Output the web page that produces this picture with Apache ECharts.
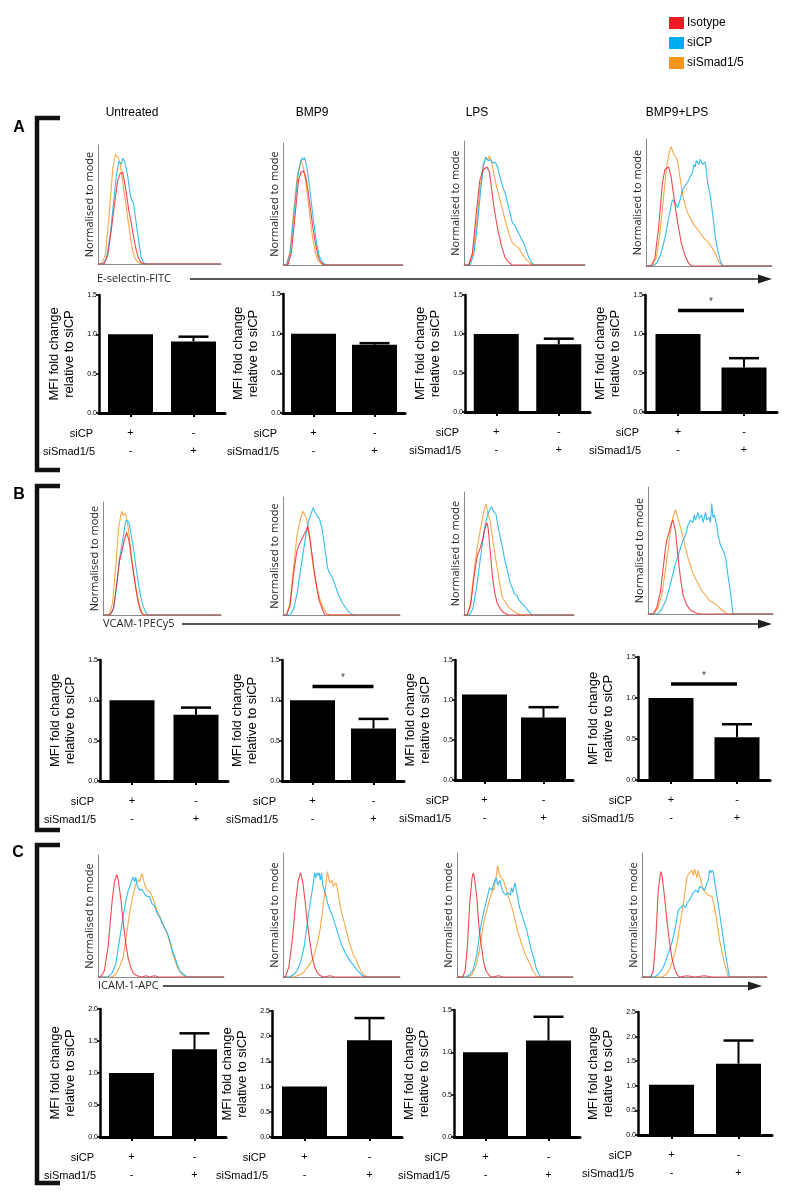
<!DOCTYPE html>
<html><head><meta charset="utf-8">
<script src="https://cdn.jsdelivr.net/npm/echarts@6.0.0/dist/echarts.min.js"></script>
<style>html,body{margin:0;padding:0;background:#fff}#c{width:800px;height:1198px}</style>
</head><body><div id="c"></div>
<script>
// ---------- labels ----------
const groups = ['Untreated', 'BMP9', 'LPS', 'BMP9+LPS'];
const markers = ['E-selectin-FITC', 'VCAM-1PECy5', 'ICAM-1-APC'];
const panels = ['A', 'B', 'C'];
const conditions = ['Isotype', 'siCP', 'siSmad1/5'];
const siCPRow = ['+', '-'];
const siSmadRow = ['-', '+'];
const yName = 'MFI fold change\nrelative to siCP';
const histYName = 'Normalised to mode';

// ---------- histograms: [x % of axis, y % of axis height] ----------
// A: E-selectin
const A1_iso = [[0,0],[5,0],[8,8],[11,30],[14,55],[16,70],[18,76],[20,77],[21,72],[23,60],[25,45],[27,35],[29,22],[31,12],[33,5],[35,1],[38,0],[100,0]];
const A1_cp = [[0,0],[4,0],[7,5],[10,25],[13,55],[15,75],[17,86],[19,84],[20,89],[22,85],[24,75],[26,60],[27,55],[29,50],[31,35],[33,20],[35,6],[37,1],[40,0],[100,0]];
const A1_smad = [[0,0],[3,0],[6,8],[9,40],[12,80],[14,92],[16,90],[18,85],[20,70],[22,55],[24,40],[26,25],[28,12],[30,5],[33,1],[36,0],[100,0]];
const A2_iso = [[0,0],[4,0],[7,10],[10,40],[13,70],[15,76],[17,77],[19,72],[21,60],[23,45],[25,30],[27,18],[29,8],[31,3],[34,0],[100,0]];
const A2_cp = [[0,0],[3,0],[6,10],[9,40],[12,70],[14,82],[16,88],[17,86],[18,88],[20,80],[22,65],[24,48],[26,32],[28,18],[30,8],[33,2],[36,0],[100,0]];
const A2_smad = [[0,0],[3,0],[6,12],[9,45],[12,74],[14,82],[15,86],[17,80],[19,68],[21,52],[23,35],[25,20],[27,10],[29,4],[32,1],[34,0],[100,0]];
const A3_iso = [[0,0],[4,0],[7,10],[10,40],[13,68],[16,77],[19,79],[21,75],[23,60],[25,45],[28,28],[31,15],[34,6],[37,2],[40,0],[100,0]];
const A3_cp = [[0,0],[5,0],[8,8],[11,32],[14,62],[16,80],[18,87],[20,84],[22,85],[24,82],[26,83],[28,78],[30,70],[32,63],[34,58],[36,50],[38,42],[40,34],[42,32],[44,28],[46,24],[48,20],[50,16],[52,10],[54,5],[56,2],[58,0],[100,0]];
const A3_smad = [[0,0],[4,0],[7,8],[10,30],[13,60],[16,82],[18,86],[20,85],[21,88],[23,82],[25,72],[27,63],[29,55],[31,48],[33,40],[35,32],[38,23],[40,18],[42,16],[45,14],[48,9],[51,5],[54,2],[57,0],[100,0]];
const A4_iso = [[0,0],[4,0],[7,6],[10,30],[13,65],[15,76],[18,78],[20,70],[22,55],[25,35],[28,18],[31,8],[34,2],[36,0],[100,0]];
const A4_cp = [[0,0],[6,0],[9,3],[12,10],[15,22],[18,38],[20,48],[21,52],[23,50],[25,46],[27,52],[29,60],[31,63],[33,66],[35,70],[37,74],[38,80],[39,78],[40,83],[41,84],[42,80],[43,84],[45,80],[47,82],[48,74],[49,65],[51,55],[52,48],[54,32],[55,23],[57,12],[59,4],[61,0],[100,0]];
const A4_smad = [[0,0],[5,0],[8,6],[11,25],[14,55],[16,75],[18,88],[20,94],[22,88],[24,85],[25,83],[27,70],[29,56],[31,48],[33,42],[35,38],[37,34],[40,30],[43,26],[46,22],[48,20],[50,18],[52,15],[55,10],[57,5],[59,2],[61,0],[100,0]];
// B: VCAM-1
const B1_iso = [[0,0],[6,0],[9,6],[12,30],[14,48],[16,56],[18,66],[20,73],[22,66],[24,50],[26,36],[28,22],[30,10],[32,3],[34,0],[100,0]];
const B1_cp = [[0,0],[6,0],[9,6],[12,30],[14,50],[16,62],[18,75],[19,82],[20,84],[22,82],[24,70],[26,58],[28,42],[30,28],[32,16],[34,8],[36,3],[38,0],[100,0]];
const B1_smad = [[0,0],[5,0],[8,10],[11,45],[13,75],[15,88],[16,92],[17,88],[19,90],[21,80],[23,62],[25,45],[27,30],[29,18],[31,8],[33,2],[35,0],[100,0]];
const B2_iso = [[0,0],[3,0],[6,8],[9,35],[12,55],[15,62],[18,68],[20,72],[21,75],[23,65],[25,50],[27,35],[29,22],[31,12],[34,4],[36,0],[100,0]];
const B2_cp = [[0,0],[6,0],[9,5],[12,18],[15,38],[18,58],[20,70],[22,80],[24,86],[26,91],[27,88],[29,84],[31,82],[32,81],[33,75],[35,62],[37,48],[38,40],[40,35],[42,32],[43,30],[45,24],[47,18],[49,14],[51,10],[53,7],[55,4],[57,2],[60,0],[100,0]];
const B2_smad = [[0,0],[3,0],[6,10],[9,40],[12,68],[15,82],[17,88],[18,89],[20,82],[22,72],[24,55],[26,40],[28,28],[31,15],[34,7],[37,2],[40,0],[100,0]];
const B3_iso = [[0,0],[3,0],[6,8],[9,30],[12,48],[15,55],[17,62],[19,70],[21,75],[22,70],[24,50],[26,30],[28,18],[30,10],[33,5],[36,2],[40,0],[100,0]];
const B3_cp = [[0,0],[5,0],[8,5],[11,20],[14,40],[17,60],[19,72],[21,80],[22,83],[23,82],[25,88],[27,84],[29,82],[31,72],[33,63],[35,55],[37,45],[39,38],[41,30],[42,26],[44,22],[46,17],[48,16],[50,12],[51,11],[54,8],[57,5],[60,2],[62,0],[100,0]];
const B3_smad = [[0,0],[3,0],[6,10],[9,35],[12,55],[15,70],[17,80],[19,88],[20,90],[22,82],[24,75],[26,62],[28,50],[30,39],[32,28],[34,18],[35,14],[38,10],[41,6],[44,4],[47,2],[51,0],[100,0]];
const B4_iso = [[0,0],[4,0],[7,5],[10,18],[12,35],[14,52],[15,58],[17,65],[19,72],[20,74],[22,65],[24,45],[26,28],[28,15],[31,7],[34,3],[38,1],[42,0],[100,0]];
const B4_cp = [[0,0],[8,0],[11,4],[14,10],[17,20],[20,32],[22,40],[24,45],[26,52],[28,58],[30,62],[32,70],[34,74],[36,72],[37,78],[38,74],[40,80],[41,75],[43,78],[44,72],[46,80],[47,74],[49,76],[50,72],[51,87],[52,76],[53,78],[55,70],[56,62],[58,54],[60,50],[62,45],[64,30],[66,17],[67,8],[68,0],[100,0]];
const B4_smad = [[0,0],[5,0],[8,5],[11,15],[14,35],[17,58],[19,72],[21,80],[22,82],[24,75],[26,68],[28,61],[30,52],[32,44],[34,38],[36,32],[38,28],[40,24],[42,20],[44,17],[46,15],[48,12],[50,10],[52,9],[55,7],[58,4],[61,2],[63,0],[100,0]];
// C: ICAM-1
const C1_iso = [[0,0],[2,0],[5,5],[8,25],[11,60],[13,78],[15,84],[16,80],[18,65],[20,45],[22,28],[24,15],[26,8],[28,3],[31,1],[35,0],[38,1],[41,0],[45,1],[48,0],[100,0]];
const C1_cp = [[0,0],[8,0],[11,3],[14,10],[17,30],[20,50],[22,62],[24,71],[26,76],[27,80],[28,82],[29,78],[30,82],[31,75],[33,71],[35,72],[37,68],[39,66],[41,66],[43,60],[45,58],[47,52],[49,49],[51,44],[53,40],[55,36],[57,30],[59,22],[61,16],[63,10],[65,5],[68,2],[71,0],[100,0]];
const C1_smad = [[0,0],[11,0],[14,2],[17,8],[20,16],[22,30],[25,52],[28,68],[30,76],[32,80],[33,78],[35,85],[36,80],[37,76],[39,71],[41,70],[43,66],[45,60],[47,54],[49,50],[51,44],[53,40],[55,35],[57,28],[59,20],[61,14],[63,8],[66,3],[69,0],[100,0]];
const C2_iso = [[0,0],[2,0],[5,8],[8,30],[11,62],[13,78],[15,84],[17,76],[19,60],[21,42],[23,28],[25,16],[27,8],[29,4],[32,1],[35,0],[40,1],[44,0],[100,0]];
const C2_cp = [[0,0],[6,0],[9,2],[12,5],[15,12],[18,24],[20,38],[22,52],[24,64],[25,70],[26,76],[27,84],[28,80],[29,84],[30,82],[31,84],[32,78],[33,84],[34,74],[36,68],[38,60],[40,54],[42,50],[44,44],[46,38],[48,32],[50,26],[52,22],[54,18],[56,15],[58,12],[60,10],[62,7],[64,5],[66,3],[68,1],[70,0],[100,0]];
const C2_smad = [[0,0],[9,0],[12,1],[15,2],[18,4],[21,8],[24,12],[26,16],[28,22],[30,30],[32,40],[34,55],[36,70],[37,78],[38,85],[39,80],[40,76],[42,78],[43,73],[45,76],[46,74],[48,62],[50,52],[52,45],[54,38],[56,30],[58,24],[60,18],[62,15],[64,10],[66,6],[68,3],[70,1],[72,0],[100,0]];
const C3_iso = [[0,0],[5,0],[7,5],[9,25],[11,60],[13,80],[14,84],[15,80],[17,65],[19,40],[21,25],[23,12],[25,5],[28,1],[30,0],[36,1],[40,0],[100,0]];
const C3_cp = [[0,0],[8,0],[11,2],[14,6],[17,18],[20,38],[22,48],[24,56],[26,64],[28,72],[30,70],[32,76],[34,80],[35,74],[37,78],[39,70],[40,68],[42,66],[44,68],[46,66],[47,72],[48,68],[50,76],[51,70],[52,66],[54,56],[56,50],[58,44],[60,38],[62,30],[64,22],[66,16],[68,8],[70,3],[72,0],[100,0]];
const C3_smad = [[0,0],[10,0],[13,2],[16,8],[19,20],[22,38],[24,48],[26,55],[28,62],[30,68],[31,72],[32,70],[33,78],[34,82],[35,90],[36,84],[38,80],[40,78],[42,72],[44,66],[46,60],[48,54],[50,46],[52,38],[54,32],[56,26],[58,20],[60,16],[62,12],[64,8],[66,4],[69,0],[100,0]];
const C4_iso = [[0,0],[7,0],[9,5],[11,30],[13,70],[15,85],[16,82],[18,65],[20,45],[22,28],[24,15],[26,7],[28,2],[30,0],[36,1],[42,0],[50,1],[56,0],[100,0]];
const C4_cp = [[0,0],[10,0],[13,2],[16,6],[18,10],[20,16],[22,22],[24,28],[25,32],[27,42],[29,54],[31,56],[33,58],[35,56],[36,60],[38,62],[40,66],[41,68],[43,70],[45,68],[46,73],[48,72],[50,70],[52,76],[53,78],[54,86],[55,84],[56,86],[57,84],[58,78],[60,65],[62,52],[64,38],[66,24],[68,11],[70,0],[100,0]];
const C4_smad = [[0,0],[15,0],[18,1],[20,3],[22,6],[24,12],[26,18],[28,27],[30,40],[32,52],[34,66],[36,81],[38,84],[40,86],[41,82],[42,87],[44,80],[45,86],[46,86],[47,78],[49,70],[51,68],[53,66],[56,65],[58,56],[60,44],[62,30],[64,20],[66,11],[68,4],[69,0],[100,0]];

// ---------- bar charts: mean, upper error (SEM), significance bar height ----------
const meanA = [[1.0, 0.91], [1.0, 0.86], [1.0, 0.87], [1.0, 0.57]];
const errA = [[0, 0.06], [0, 0.02], [0, 0.07], [0, 0.12]];
const sigA = [null, null, null, 1.30];
const meanB = [[1.0, 0.82], [1.0, 0.65], [1.07, 0.78], [1.0, 0.52]];
const errB = [[0, 0.09], [0, 0.12], [0, 0.13], [0, 0.16]];
const sigB = [null, 1.17, null, 1.17];
const meanC = [[1.0, 1.37], [1.0, 1.92], [1.0, 1.14], [1.02, 1.45]];
const errC = [[0, 0.25], [0, 0.44], [0, 0.28], [0, 0.47]];
const sigC = [null, null, null, null];
const yMax = [[1.5, 1.5, 1.5, 1.5], [1.5, 1.5, 1.5, 1.5], [2.0, 2.5, 1.5, 2.5]];

// ---------- layout (pixels: left, top, right, bottom) ----------
const histBoxes = [
  [[98,145,221,264],[283,143,403,265],[464,141,585,265],[646,139,772,266]],
  [[103,502,221,615],[283,497,400,615],[464,492,574,615],[648,487,773,614]],
  [[98,855,224,977],[283,853,400,977],[457,853,573,977],[642,853,767,977]]
];
const barBoxes = [
  [[99,295,225,413],[283,294,405,413],[465,295,590,412],[645,295,777,412]],
  [[100,660,228,781],[282,660,404,781],[455,660,573,780],[638,657,770,780]],
  [[100,1009,226,1137],[272,1011,402,1137],[454,1010,580,1137],[638,1012,772,1135]]
];
const titleX = [132, 312, 477, 677];
const letterPos = [[19,128],[19,495],[18,853]];
const brackets = [[118,470],[486,830],[845,1183]];
const arrowRows = [[97,279,190,772],[103,624,182,772],[98,986,163,762]];

const colors = ['#ED1C24', '#00AEEF', '#F7941D'];
const hist = [
  [[A1_iso,A1_cp,A1_smad],[A2_iso,A2_cp,A2_smad],[A3_iso,A3_cp,A3_smad],[A4_iso,A4_cp,A4_smad]],
  [[B1_iso,B1_cp,B1_smad],[B2_iso,B2_cp,B2_smad],[B3_iso,B3_cp,B3_smad],[B4_iso,B4_cp,B4_smad]],
  [[C1_iso,C1_cp,C1_smad],[C2_iso,C2_cp,C2_smad],[C3_iso,C3_cp,C3_smad],[C4_iso,C4_cp,C4_smad]]
];
const means = [meanA, meanB, meanC];
const errs = [errA, errB, errC];
const sigs = [sigA, sigB, sigC];

const narrow = '"Liberation Sans",Arial,sans-serif';
const sans = '"Liberation Sans",Arial,sans-serif';
const myriad = '"Open Sans","Noto Sans",sans-serif';

const grid = [], xAxis = [], yAxis = [], series = [], graphic = [];

function box(b) { return { left: b[0], top: b[1], width: b[2] - b[0], height: b[3] - b[1] }; }

for (let p = 0; p < 3; p++) {
  for (let g = 0; g < 4; g++) {
    // ---- histogram ----
    const hb = histBoxes[p][g];
    const gi = grid.length;
    grid.push(box(hb));
    const xi = xAxis.length, yi = yAxis.length;
    xAxis.push({ gridIndex: gi, type: 'value', min: 0, max: 100,
      axisLine: { show: true, lineStyle: { color: '#8a8a8a', width: 1 } },
      axisTick: { show: false }, axisLabel: { show: false }, splitLine: { show: false } });
    yAxis.push({ gridIndex: gi, type: 'value', min: 0, max: 100,
      name: histYName, nameLocation: 'middle', nameGap: 3,
      nameTextStyle: { fontSize: 11, fontFamily: myriad, color: '#231f20' },
      axisLine: { show: true, lineStyle: { color: '#8a8a8a', width: 1 } },
      axisTick: { show: false }, axisLabel: { show: false }, splitLine: { show: false } });
    for (let s = 0; s < 3; s++) {
      series.push({ type: 'line', name: conditions[s], xAxisIndex: xi, yAxisIndex: yi,
        data: hist[p][g][s], symbol: 'none', showSymbol: false, animation: false,
        color: colors[s], lineStyle: { width: 1.1, color: colors[s], opacity: 0.8 }, z: 3 - s });
    }

    // ---- bar chart ----
    const bb = barBoxes[p][g];
    const bgi = grid.length;
    grid.push(box(bb));
    const cxi = xAxis.length;
    xAxis.push({ gridIndex: bgi, type: 'category',
      data: siCPRow.map((v, i) => v + '\n' + siSmadRow[i]),
      axisLine: { show: true, lineStyle: { color: '#000', width: 3 } },
      axisTick: { show: true, alignWithLabel: true, length: 4, lineStyle: { color: '#000', width: 2 } },
      axisLabel: { fontSize: 11, lineHeight: 18, margin: 11, color: '#000', fontFamily: narrow } });
    const vxi = xAxis.length;
    xAxis.push({ gridIndex: bgi, type: 'value', min: 0, max: 2, show: false });
    const byi = yAxis.length;
    yAxis.push({ gridIndex: bgi, type: 'value', min: 0, max: yMax[p][g], interval: 0.5,
      name: yName, nameLocation: 'middle', nameGap: 22,
      nameTextStyle: { fontSize: 13, lineHeight: 15, fontFamily: sans, color: '#000' },
      axisLine: { show: true, lineStyle: { color: '#000', width: 2.5 } },
      axisTick: { show: true, length: 3, lineStyle: { color: '#000', width: 1.5 } },
      axisLabel: { fontSize: 7, margin: 2, color: '#000', fontFamily: narrow, formatter: v => v.toFixed(1) },
      splitLine: { show: false } });
    series.push({ type: 'bar', name: 'bar', xAxisIndex: cxi, yAxisIndex: byi,
      data: means[p][g], barWidth: 45, itemStyle: { color: '#000' }, animation: false });
    series.push({ type: 'custom', name: 'err', xAxisIndex: cxi, yAxisIndex: byi, animation: false,
      data: means[p][g].map((m, i) => [i, m, errs[p][g][i]]),
      encode: { x: 0, y: 1 },
      renderItem: (params, api) => {
        const x = api.value(0), m = api.value(1), e = api.value(2);
        if (!e) return null;
        const p0 = api.coord([x, m]), p1 = api.coord([x, m + e]);
        return { type: 'group', children: [
          { type: 'line', shape: { x1: p0[0], y1: p0[1], x2: p1[0], y2: p1[1] }, style: { stroke: '#000', lineWidth: 2 } },
          { type: 'line', shape: { x1: p1[0] - 15, y1: p1[1], x2: p1[0] + 15, y2: p1[1] }, style: { stroke: '#000', lineWidth: 2.5 } }
        ] };
      } });
    const sg = sigs[p][g];
    if (sg !== null) {
      series.push({ type: 'line', name: 'sig', xAxisIndex: vxi, yAxisIndex: byi, animation: false,
        data: [[0.5, sg], [1.5, sg]], symbol: 'none', lineStyle: { color: '#000', width: 3.5 } });
      series.push({ type: 'scatter', name: 'star', xAxisIndex: vxi, yAxisIndex: byi, animation: false,
        data: [[1, sg]], symbolSize: 0, silent: true,
        label: { show: true, formatter: '*', position: 'top', distance: 3, fontSize: 10, color: '#000', fontFamily: sans } });
    }
    // row labels
    graphic.push({ type: 'text', x: bb[0] - 6, y: bb[3] + 21,
      style: { text: 'siCP', fontSize: 11, fontFamily: narrow, fill: '#000', textAlign: 'right', textVerticalAlign: 'middle' } });
    graphic.push({ type: 'text', x: bb[0] - 4, y: bb[3] + 39,
      style: { text: 'siSmad1/5', fontSize: 11, fontFamily: narrow, fill: '#000', textAlign: 'right', textVerticalAlign: 'middle' } });
  }
  // panel letter
  graphic.push({ type: 'text', x: letterPos[p][0], y: letterPos[p][1],
    style: { text: panels[p], fontSize: 16, fontWeight: 'bold', fontFamily: sans, fill: '#000', textAlign: 'center', textVerticalAlign: 'middle' } });
  // bracket
  const br = brackets[p];
  graphic.push({ type: 'polyline', shape: { points: [[60, br[0]], [37, br[0]], [37, br[1]], [60, br[1]]] },
    style: { stroke: '#111', lineWidth: 4.5, fill: null, lineJoin: 'miter', lineCap: 'butt' } });
  // marker label + arrow
  const ar = arrowRows[p];
  graphic.push({ type: 'text', x: ar[0], y: ar[1],
    style: { text: markers[p], fontSize: 11, fontFamily: myriad, fill: '#231f20', textAlign: 'left', textVerticalAlign: 'middle' } });
  graphic.push({ type: 'line', shape: { x1: ar[2], y1: ar[1], x2: ar[3] - 10, y2: ar[1] },
    style: { stroke: '#231f20', lineWidth: 1.3 } });
  graphic.push({ type: 'polygon', shape: { points: [[ar[3] - 14, ar[1] - 4.5], [ar[3], ar[1]], [ar[3] - 14, ar[1] + 4.5]] },
    style: { fill: '#231f20' } });
}
// column titles
groups.forEach((t, i) => graphic.push({ type: 'text', x: titleX[i], y: 113,
  style: { text: t, fontSize: 12, fontFamily: sans, fill: '#000', textAlign: 'center', textVerticalAlign: 'middle' } }));

const chart = echarts.init(document.getElementById('c'));
chart.setOption({
  animation: false,
  backgroundColor: '#fff',
  legend: { data: conditions, orient: 'vertical', left: 664, top: 12, itemWidth: 15, itemHeight: 12, itemGap: 8,
    icon: 'rect', selectedMode: false, itemStyle: { opacity: 1 },
    textStyle: { fontSize: 12, fontFamily: sans, color: '#000', padding: [0, 0, 0, -2] } },
  grid, xAxis, yAxis, series, graphic
});
</script></body></html>
